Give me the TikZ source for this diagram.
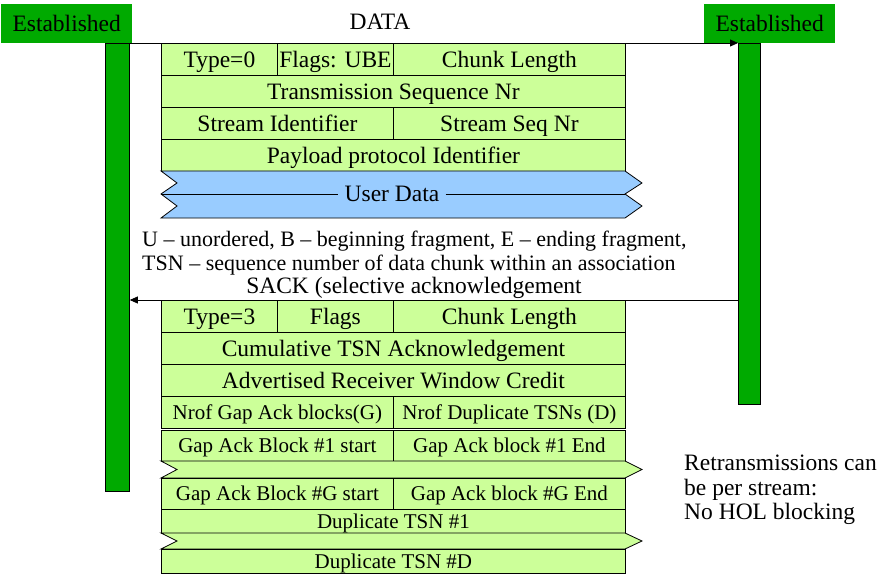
\documentclass[tikz,border=0pt]{standalone}
\usepackage{fontspec}
\setmainfont{Liberation Serif}
\usetikzlibrary{arrows.meta}
\definecolor{estgreen}{RGB}{0,170,0}
\definecolor{cellgreen}{RGB}{204,255,153}
\definecolor{udblue}{RGB}{153,204,255}
\tikzset{
 cell/.style={draw=black, line width=0.8pt, fill=cellgreen, inner sep=0pt, anchor=north west, font=\fontsize{23.5}{26}\selectfont, text height=20.5pt, text depth=5pt},
 smallcell/.style={cell, font=\fontsize{21}{24}\selectfont, text height=18.3pt, text depth=4.5pt},
 estbox/.style={fill=estgreen, inner sep=0pt, anchor=north west, minimum width=131pt, minimum height=39pt, font=\fontsize{23.5}{26}\selectfont, text height=20.5pt, text depth=5pt},
 lifebar/.style={draw=black, line width=0.8pt, fill=estgreen, anchor=north west, inner sep=0pt},
 msg/.style={draw=black, line width=0.8pt, -{Triangle[length=8pt,width=7pt]}},
 lbl/.style={inner sep=0pt, font=\fontsize{23.5}{26}\selectfont},
 note/.style={inner sep=0pt, font=\fontsize{22}{24}\selectfont, anchor=west},
 band/.style={draw=black, line width=0.8pt},
}
\begin{document}
\begin{tikzpicture}[x=1pt,y=-1pt]
\useasboundingbox (0,0) rectangle (884,575);
% lifelines
\node[lifebar, minimum width=24pt, minimum height=448pt] (barL) at (105,43) {};
\node[lifebar, minimum width=22pt, minimum height=361pt] (barR) at (738,43) {};
\node[estbox] (estL) at (1,4) {Established};
\node[estbox] (estR) at (704,4) {Established};
% DATA message
\draw[msg] (barL.north east) -- (barR.north west);
\node[lbl, text height=20.5pt, text depth=5pt] (datalbl) at (380,22) {DATA};
% DATA chunk
\node[cell, minimum width=116pt, minimum height=32pt] (dtype) at (161,43) {Type=0};
\node[cell, minimum width=116pt, minimum height=32pt] (dflags) at (277,43) {Flags: UBE};
\node[cell, minimum width=232pt, minimum height=32pt] (dlen) at (393,43) {Chunk Length};
\node[cell, minimum width=464pt, minimum height=32pt] (dtsn) at (161,75) {Transmission Sequence Nr};
\node[cell, minimum width=232pt, minimum height=32pt] (dsid) at (161,107) {Stream Identifier};
\node[cell, minimum width=232pt, minimum height=32pt] (dssn) at (393,107) {Stream Seq Nr};
\node[cell, minimum width=464pt, minimum height=32pt] (dppi) at (161,139) {Payload protocol Identifier};
% User data band
\draw[band, fill=udblue] (161,171) -- (625,171) -- (642,183) -- (625,194) -- (642,206) -- (625,218)
  -- (161,218) -- (177,206) -- (161,194) -- (177,183) -- cycle;
\node[lbl, fill=udblue, inner xsep=6pt, text height=20.5pt, text depth=5pt] (ud) at (392,194) {User Data};
\draw[band] (161,194) -- (ud.west);
\draw[band] (ud.east) -- (625,194);
% notes
\node[note] (n1) at (142,241) {U – unordered, B – beginning fragment, E – ending fragment,};
\node[note] (n2) at (142,265) {TSN – sequence number of data chunk within an association};
% SACK
\node[lbl] (sacklbl) at (414,288) {SACK (selective acknowledgement};
\node[cell, minimum width=116pt, minimum height=32pt] (stype) at (161,300) {Type=3};
\node[cell, minimum width=116pt, minimum height=32pt] (sflags) at (277,300) {Flags};
\node[cell, minimum width=232pt, minimum height=32pt] (slen) at (393,300) {Chunk Length};
\draw[msg] (barR.west |- stype.north) -- (barL.east |- stype.north);
\node[cell, minimum width=464pt, minimum height=32pt] (scum) at (161,332) {Cumulative TSN Acknowledgement};
\node[cell, minimum width=464pt, minimum height=32pt] (sarw) at (161,364) {Advertised Receiver Window Credit};
\node[smallcell, minimum width=232pt, minimum height=32pt] (sng) at (161,396) {Nrof Gap Ack blocks(G)};
\node[smallcell, minimum width=232pt, minimum height=32pt] (snd) at (393,396) {Nrof Duplicate TSNs (D)};
\node[smallcell, minimum width=232pt, minimum height=31pt] (sg1s) at (161,430) {Gap Ack Block \#1 start};
\node[smallcell, minimum width=232pt, minimum height=31pt] (sg1e) at (393,430) {Gap Ack block \#1 End};
\draw[band, fill=cellgreen] (161,461) -- (625,461) -- (642,469.5) -- (625,478) -- (161,478) -- (177,469.5) -- cycle;
\node[smallcell, minimum width=232pt, minimum height=31pt] (sggs) at (161,478) {Gap Ack Block \#G start};
\node[smallcell, minimum width=232pt, minimum height=31pt] (sgge) at (393,478) {Gap Ack block \#G End};
\node[smallcell, minimum width=464pt, minimum height=24pt] (sd1) at (161,509) {Duplicate TSN \#1};
\draw[band, fill=cellgreen] (161,533) -- (625,533) -- (642,541) -- (625,549) -- (161,549) -- (177,541) -- cycle;
\node[smallcell, minimum width=464pt, minimum height=24pt] (sdd) at (161,549) {Duplicate TSN \#D};
% side note
\node[lbl, anchor=west, align=left, font=\fontsize{23.5}{24.5}\selectfont] (retx) at (684,490) {Retransmissions can\\be per stream:\\No HOL blocking};
\end{tikzpicture}
\end{document}
